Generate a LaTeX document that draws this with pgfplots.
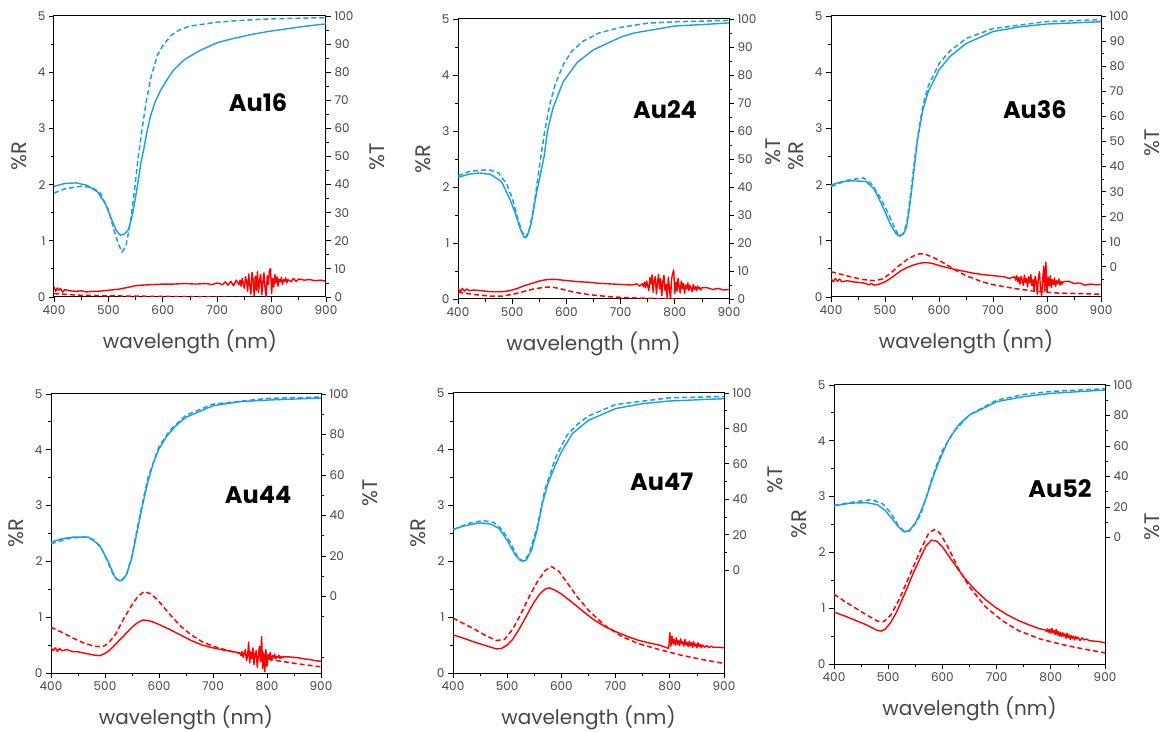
\documentclass[border=0pt]{standalone}
\usepackage{fontspec}
\setmainfont{Poppins}
\usepackage{pgfplots}
\pgfplotsset{compat=1.18}

\definecolor{tblue}{RGB}{28,158,228}
\definecolor{rred}{RGB}{255,0,0}
\definecolor{labgray}{RGB}{70,70,70}

\tikzset{ttl/.style={font=\fontsize{24}{24}\selectfont\bfseries, text=black}}
\pgfplotsset{
  panel/.style={scale only axis, xmin=400, xmax=900,
    axis line style={line width=1pt}, tick style={black, line width=0.8pt},
    major tick length=5pt, minor tick length=3pt, tick align=outside,
    ticklabel style={font=\fontsize{12}{12}\selectfont, text=labgray},
    /pgf/number format/assume math mode=true},
  Rax/.style={panel, ymin=0, ymax=5,
    xtick={400,500,...,900}, minor x tick num=1,
    ytick={0,...,5}, minor y tick num=1, xtick pos=bottom, ytick pos=left,
    xlabel={wavelength (nm)}, ylabel={\%R},
    xlabel style={font=\fontsize{20}{20}\selectfont, text=labgray,
      at={(axis description cs:0.5,0)}, anchor=center, yshift=-45pt},
    % the label is turned by 90 degrees, so a yshift moves it sideways
    ylabel style={font=\fontsize{21}{21}\selectfont, text=labgray,
      at={(axis description cs:0,0.5)}, anchor=center, yshift=35pt}},
  Tax/.style 2 args={panel, ymax=100, axis x line=none, axis y line*=right,
    ylabel={\%T},
    ylabel style={font=\fontsize{21}{21}\selectfont, text=labgray,
      at={(axis description cs:1,#1)}, anchor=center, yshift=-#2}},
  expt/.style={line width=1.4pt, line join=round},
  calc/.style={line width=1.5pt, dash pattern=on 5pt off 3pt},
}

\begin{document}
\begin{tikzpicture}
\useasboundingbox (0,0) rectangle (1167pt,731pt);

% ---------------- Au16 ----------------
\begin{axis}[Rax, width=272pt, height=281pt, at={(54pt,434pt)}, anchor=south west]
\addplot[expt, rred] coordinates {
 (400,0.18)(403,0.10)(406,0.16)(409,0.12)(412,0.15)(416,0.09)(420,0.13)(430,0.11)
 (440,0.10)(450,0.11)(460,0.09)(470,0.10)(480,0.10)(490,0.11)(500,0.12)(510,0.13)
 (520,0.14)(530,0.16)(540,0.18)(550,0.20)(560,0.21)(580,0.22)(600,0.23)(620,0.23)
 (640,0.24)(660,0.23)(680,0.24)(690,0.22)(700,0.25)(710,0.22)(715,0.27)(720,0.21)
 (725,0.28)(730,0.20)(735,0.30)
 (740,0.22)(742,0.30)(744,0.19)(746,0.33)(748,0.24)(750,0.15)(752,0.36)(754,0.28)
 (756,0.10)(758,0.41)(760,0.20)(762,0.05)(764,0.44)(766,0.31)(768,0.02)(770,0.37)
 (772,0.12)(774,0.45)(776,0.08)(778,0.30)(780,0.40)(782,0.04)(784,0.26)(786,0.43)
 (788,0.15)(790,0.01)(792,0.38)(794,0.22)(796,0.47)(798,0.51)(800,0.06)(802,0.33)
 (804,0.18)(806,0.40)(808,0.25)(810,0.36)(812,0.19)(814,0.32)(816,0.27)(818,0.35)
 (820,0.22)(822,0.31)(824,0.28)(826,0.34)(828,0.25)(830,0.31)
 (836,0.27)(840,0.33)(845,0.28)(850,0.32)(860,0.30)(870,0.31)(880,0.29)(890,0.30)(900,0.28)};
\addplot[calc, rred] coordinates {
 (400,0.06)(450,0.03)(500,0.02)(550,0.015)(600,0.01)(650,0.005)(690,0.0)(750,-0.01)(900,-0.03)};
\node[ttl] at (rel axis cs:0.75,0.69) {Au16};
\end{axis}
\begin{axis}[Tax={0.5}{51pt}, width=272pt, height=281pt, at={(54pt,434pt)}, anchor=south west,
  ymin=0, ytick={0,10,...,100}, minor ytick={5,15,...,95}]
\addplot[expt, tblue] coordinates {
 (400,39.4)(420,40.4)(440,40.6)(460,39.8)(480,37.4)(495,33)(505,28)(515,23.5)(522,22)
 (530,22.5)(537,24)(545,30)(553,39)(560,48)(565,52.5)(570,58)(577,64)(585,69)(596,73.6)
 (610,78)(620,80.8)(640,84.5)(669,87.8)(700,90.5)(730,92)(760,93.3)(791,94.4)(830,95.5)
 (860,96.3)(900,97.2)};
\addplot[calc, tblue] coordinates {
 (400,37)(420,38.5)(450,39.4)(470,39)(485,37)(500,31)(510,24)(518,19)(525,16)(532,18)
 (540,26)(548,38)(555,50)(562,60)(570,70)(578,78)(590,86)(600,89.5)(615,93)(630,95)
 (650,96.4)(700,97.8)(750,98.5)(800,99)(900,99.4)};
\end{axis}

% ---------------- Au24 ----------------
\begin{axis}[Rax, width=271pt, height=280pt, at={(458pt,432pt)}, anchor=south west]
\addplot[expt, rred] coordinates {
 (400,0.20)(404,0.13)(408,0.19)(412,0.14)(416,0.18)(420,0.15)(430,0.16)(440,0.15)
 (450,0.14)(460,0.13)(470,0.13)(480,0.13)(490,0.14)(500,0.16)(510,0.19)(520,0.23)
 (530,0.26)(540,0.29)(550,0.32)(560,0.34)(570,0.35)(580,0.35)(590,0.34)(600,0.33)
 (620,0.31)(640,0.30)(660,0.28)(680,0.27)(700,0.26)(720,0.25)(730,0.27)(735,0.23)
 (740,0.27)(742,0.22)(744,0.30)(746,0.20)(748,0.32)(750,0.24)(752,0.15)(754,0.38)
 (756,0.27)(758,0.43)(760,0.12)(762,0.33)(764,0.40)(766,0.09)(768,0.28)(770,0.44)
 (772,0.18)(774,0.36)(776,0.06)(778,0.31)(780,0.42)(782,0.15)(784,0.26)(786,0.02)
 (788,0.39)(790,0.20)(792,0.00)(794,0.35)(796,0.45)(798,0.52)(800,0.10)(802,0.30)
 (804,0.14)(806,0.37)(808,0.22)(810,0.11)(812,0.32)(814,0.19)(816,0.28)(818,0.10)
 (820,0.25)(822,0.18)(824,0.29)(826,0.15)(828,0.24)(830,0.20)(832,0.13)(834,0.26)
 (836,0.17)(838,0.22)(840,0.15)(842,0.23)(844,0.18)(846,0.21)(848,0.16)(850,0.20)
 (860,0.20)(870,0.17)(880,0.19)(890,0.16)(900,0.17)};
\addplot[calc, rred] coordinates {
 (400,0.12)(430,0.08)(460,0.05)(480,0.05)(500,0.08)(520,0.13)(540,0.18)(560,0.21)
 (575,0.21)(590,0.18)(610,0.13)(640,0.08)(680,0.04)(720,0.02)(760,0.01)(800,0.0)(850,-0.02)};
\node[ttl] at (rel axis cs:0.764,0.675) {Au24};
\end{axis}
\begin{axis}[Tax={0.525}{44pt}, width=271pt, height=280pt, at={(458pt,432pt)}, anchor=south west,
  ymin=0, ytick={0,10,...,100}, minor ytick={5,15,...,95}]
\addplot[expt, tblue] coordinates {
 (400,43.4)(420,44.6)(440,45)(460,44.5)(480,42)(495,36)(505,31)(515,25)(522,22)(528,22.5)
 (535,27)(545,38)(559,51)(565,60)(575,68)(594,77.6)(620,84.5)(650,89)(700,93.5)(725,95)
 (800,97.5)(850,98)(900,98.6)};
\addplot[calc, tblue] coordinates {
 (400,44)(420,45.5)(440,46)(460,46)(475,45)(490,41)(500,36)(510,29)(518,24)(525,22)
 (532,25)(540,33)(550,47)(560,60)(570,70)(580,77)(595,84)(610,88.5)(630,92)(660,95)
 (700,97)(750,98.5)(800,99)(900,99.5)};
\end{axis}

% ---------------- Au36 ----------------
\begin{axis}[Rax, width=270pt, height=281pt, at={(831pt,434pt)}, anchor=south west]
\addplot[expt, rred] coordinates {
 (400,0.33)(404,0.27)(408,0.33)(412,0.28)(416,0.32)(420,0.27)(430,0.29)(440,0.27)
 (450,0.26)(460,0.25)(470,0.22)(475,0.24)(480,0.21)(490,0.23)(500,0.27)(510,0.33)
 (520,0.40)(530,0.47)(540,0.52)(550,0.56)(560,0.59)(570,0.61)(580,0.61)(590,0.59)
 (600,0.56)(620,0.51)(640,0.47)(660,0.43)(680,0.40)(700,0.38)(720,0.36)(730,0.33)
 (740,0.36)(742,0.30)(744,0.38)(746,0.27)(748,0.35)(750,0.23)(752,0.37)(754,0.30)
 (756,0.21)(758,0.39)(760,0.26)(762,0.33)(764,0.18)(766,0.36)(768,0.25)(770,0.40)
 (772,0.20)(774,0.31)(776,0.12)(778,0.37)(780,0.28)(782,0.05)(784,0.34)(786,0.45)
 (788,0.15)(790,0.02)(792,0.30)(794,0.55)(796,0.10)(798,0.62)(800,0.08)(802,0.35)
 (804,0.20)(806,0.38)(808,0.17)(810,0.31)(812,0.22)(814,0.34)(816,0.19)(818,0.29)
 (820,0.24)(822,0.32)(824,0.21)(826,0.28)(828,0.23)(830,0.27)
 (840,0.28)(850,0.24)(860,0.25)(870,0.21)(880,0.23)(890,0.22)(900,0.22)};
\addplot[calc, rred] coordinates {
 (400,0.45)(420,0.40)(440,0.35)(460,0.31)(480,0.29)(495,0.32)(510,0.42)(525,0.55)
 (540,0.66)(555,0.74)(565,0.77)(575,0.76)(590,0.70)(610,0.60)(630,0.48)(650,0.38)
 (680,0.27)(700,0.22)(740,0.15)(780,0.10)(820,0.07)(860,0.06)(900,0.05)};
\node[ttl] at (rel axis cs:0.755,0.666) {Au36};
\end{axis}
\begin{axis}[Tax={0.55}{51pt}, width=270pt, height=281pt, at={(831pt,434pt)}, anchor=south west,
  ymin=-12, ytick={0,10,...,100}, minor ytick={-5,5,15,...,95}]
\addplot[expt, tblue] coordinates {
 (400,32.6)(420,34)(440,34.3)(465,34)(480,31)(490,26.6)(500,22)(510,17)(520,13.3)
 (527,12.2)(535,13.5)(540,16)(545,23)(550,31.9)(555,41)(560,50.5)(570,62.5)(580,69.8)
 (600,78.5)(620,83.8)(650,89)(700,93.8)(750,95.7)(800,96.8)(900,97.7)};
\addplot[calc, tblue] coordinates {
 (400,32)(430,34.5)(460,35.5)(475,33)(490,28)(500,24)(515,17)(525,12.5)(533,13)(540,17)
 (548,30)(555,43)(562,54)(570,64)(580,72)(600,81)(620,86)(650,91)(700,95)(800,97.8)(900,98.5)};
\end{axis}

% ---------------- Au44 ----------------
\begin{axis}[Rax, width=270pt, height=279pt, at={(51pt,58pt)}, anchor=south west]
\addplot[expt, rred] coordinates {
 (400,0.46)(404,0.40)(408,0.45)(412,0.39)(416,0.44)(420,0.40)(430,0.42)(440,0.38)
 (450,0.38)(460,0.36)(470,0.34)(480,0.32)(490,0.31)(500,0.35)(510,0.42)(520,0.52)
 (530,0.62)(540,0.72)(550,0.82)(560,0.90)(570,0.95)(580,0.94)(590,0.91)(600,0.87)
 (620,0.78)(640,0.68)(660,0.58)(680,0.50)(700,0.45)(720,0.41)(740,0.38)
 (750,0.36)(752,0.31)(754,0.39)(756,0.28)(758,0.35)(760,0.42)(762,0.22)(764,0.30)
 (766,0.55)(768,0.18)(770,0.38)(772,0.26)(774,0.45)(776,0.15)(778,0.34)(780,0.40)
 (782,0.10)(784,0.30)(786,0.48)(788,0.20)(790,0.65)(792,0.08)(794,0.36)(796,0.02)
 (798,0.42)(800,0.12)(802,0.33)(804,0.25)(806,0.37)(808,0.22)(810,0.31)(812,0.27)
 (814,0.34)(816,0.25)(818,0.30)(820,0.28)(822,0.32)(824,0.26)(826,0.30)(828,0.27)(830,0.29)
 (840,0.29)(850,0.28)(860,0.27)(870,0.25)(880,0.24)(890,0.22)(900,0.21)};
\addplot[calc, rred] coordinates {
 (400,0.82)(420,0.73)(440,0.63)(460,0.54)(480,0.48)(495,0.47)(505,0.52)(520,0.70)
 (535,0.98)(550,1.22)(560,1.36)(572,1.46)(585,1.42)(600,1.28)(620,1.05)(640,0.84)
 (660,0.68)(680,0.56)(700,0.48)(740,0.37)(780,0.29)(820,0.22)(860,0.16)(900,0.11)};
\node[ttl] at (rel axis cs:0.767,0.638) {Au44};
\end{axis}
\begin{axis}[Tax={0.645}{49pt}, width=270pt, height=279pt, at={(51pt,58pt)}, anchor=south west,
  ymin=-37.8, ytick={0,20,...,100}, minor ytick={-30,-10,10,30,...,90}]
\addplot[expt, tblue] coordinates {
 (400,26.8)(420,28.5)(440,29.3)(470,29.3)(490,25.2)(505,17.8)(515,11.5)(520,8.7)
 (528,7.6)(535,9)(540,10.9)(550,19.4)(560,32.6)(570,45.7)(580,57.2)(590,66.3)(600,72.9)
 (614,79)(630,84)(650,88.5)(700,94.2)(750,96.2)(800,97)(900,98)};
\addplot[calc, tblue] coordinates {
 (400,26)(430,28.5)(460,29.5)(480,28)(495,23)(505,17)(515,11)(522,8.5)(530,7.5)(540,11)
 (550,20)(560,34)(570,47)(580,59)(600,74)(620,82)(650,89.5)(700,95)(800,97.8)(900,98.5)};
\end{axis}

% ---------------- Au47 ----------------
\begin{axis}[Rax, width=271pt, height=280pt, at={(453pt,58pt)}, anchor=south west]
\addplot[expt, rred] coordinates {
 (400,0.68)(420,0.62)(440,0.55)(460,0.49)(480,0.43)(490,0.44)(500,0.50)(510,0.60)
 (520,0.75)(530,0.92)(540,1.10)(550,1.27)(560,1.41)(570,1.50)(578,1.52)(590,1.47)
 (600,1.41)(620,1.26)(640,1.10)(660,0.95)(680,0.83)(700,0.74)(720,0.66)(740,0.59)
 (760,0.54)(780,0.50)(795,0.45)(798,0.44)
 (800,0.72)(802,0.48)(804,0.66)(806,0.52)(808,0.60)(810,0.50)(812,0.63)(814,0.51)
 (816,0.58)(818,0.49)(820,0.61)(822,0.52)(824,0.56)(826,0.48)(828,0.60)(830,0.50)
 (832,0.55)(834,0.47)(836,0.57)(838,0.49)(840,0.54)(842,0.46)(844,0.56)(846,0.48)
 (848,0.52)(850,0.45)(852,0.54)(854,0.47)(856,0.51)(858,0.45)(860,0.50)(864,0.46)
 (868,0.49)(872,0.45)(876,0.48)(880,0.46)(890,0.46)(900,0.45)};
\addplot[calc, rred] coordinates {
 (400,0.98)(420,0.88)(440,0.78)(460,0.67)(480,0.58)(495,0.60)(510,0.78)(525,1.05)
 (540,1.35)(555,1.62)(570,1.83)(582,1.90)(595,1.82)(610,1.62)(630,1.35)(650,1.12)
 (680,0.85)(710,0.66)(740,0.53)(780,0.42)(820,0.32)(860,0.24)(900,0.17)};
\node[ttl] at (rel axis cs:0.77,0.682) {Au47};
\end{axis}
\begin{axis}[Tax={0.69}{51pt}, width=271pt, height=280pt, at={(453pt,58pt)}, anchor=south west,
  ymin=-58, ytick={0,20,...,100}, minor ytick={10,30,...,90}]
\addplot[expt, tblue] coordinates {
 (400,22.9)(420,25)(450,26.7)(470,26)(485,23.5)(500,16.9)(515,8.5)(525,5.3)(535,5.6)
 (545,11.3)(555,22.6)(565,37.6)(575,48.9)(590,60.2)(600,66.7)(620,77)(650,84.6)
 (700,91.2)(750,94)(800,95.5)(900,96.8)};
\addplot[calc, tblue] coordinates {
 (400,23)(430,26.5)(455,28)(475,27)(490,23)(505,16)(520,7)(530,5)(540,9)(555,24)
 (570,46)(590,64)(610,76)(630,82.5)(650,87)(700,93.5)(800,97.3)(900,98)};
\end{axis}

% ---------------- Au52 ----------------
\begin{axis}[Rax, width=271pt, height=279pt, at={(834pt,67pt)}, anchor=south west]
\addplot[expt, rred] coordinates {
 (400,0.93)(420,0.86)(440,0.78)(460,0.70)(480,0.60)(488,0.59)(495,0.63)(505,0.75)
 (515,0.92)(530,1.25)(545,1.60)(560,1.92)(570,2.12)(580,2.22)(590,2.20)(600,2.10)
 (620,1.82)(640,1.55)(660,1.33)(680,1.15)(700,1.00)(720,0.88)(740,0.78)(760,0.70)
 (780,0.63)
 (790,0.61)(792,0.58)(794,0.63)(796,0.57)(798,0.62)(800,0.55)(802,0.64)(804,0.56)
 (806,0.60)(808,0.53)(810,0.62)(812,0.52)(814,0.58)(816,0.50)(818,0.57)(820,0.49)
 (822,0.56)(824,0.50)(826,0.54)(828,0.46)(830,0.55)(832,0.47)(834,0.52)(836,0.44)
 (838,0.51)(840,0.46)(842,0.50)(844,0.43)(846,0.49)(848,0.45)(850,0.48)(854,0.42)
 (858,0.47)(862,0.43)(866,0.45)(870,0.42)(880,0.41)(890,0.40)(900,0.38)};
\addplot[calc, rred] coordinates {
 (400,1.25)(420,1.12)(440,1.00)(460,0.88)(480,0.77)(492,0.76)(505,0.88)(520,1.15)
 (540,1.60)(560,2.05)(575,2.35)(585,2.41)(595,2.35)(610,2.10)(630,1.70)(650,1.38)
 (680,1.02)(710,0.78)(740,0.60)(780,0.45)(820,0.35)(860,0.27)(900,0.20)};
\node[ttl] at (rel axis cs:0.834,0.63) {Au52};
\end{axis}
\begin{axis}[Tax={0.49}{47pt}, width=271pt, height=279pt, at={(834pt,67pt)}, anchor=south west,
  ymin=-83, ytick={0,20,...,100}, minor ytick={10,30,...,90}]
\addplot[expt, tblue] coordinates {
 (400,20.7)(430,22.5)(460,22.8)(480,21.5)(495,17.5)(510,11)(520,6.5)(530,3.5)(540,5)
 (550,9.4)(560,17)(570,25.8)(580,36.7)(590,46.5)(600,55)(610,63)(630,74)(650,80.3)
 (700,89)(750,92.4)(800,94.5)(900,96.7)};
\addplot[calc, tblue] coordinates {
 (400,21)(440,23.5)(470,24.8)(490,22)(505,16)(518,8)(528,4.5)(538,4)(550,9)(560,15)
 (570,26)(580,38)(590,48)(600,57)(620,69)(650,80.5)(700,90)(750,93.8)(800,95.8)(900,97.5)};
\end{axis}
\end{tikzpicture}
\end{document}
